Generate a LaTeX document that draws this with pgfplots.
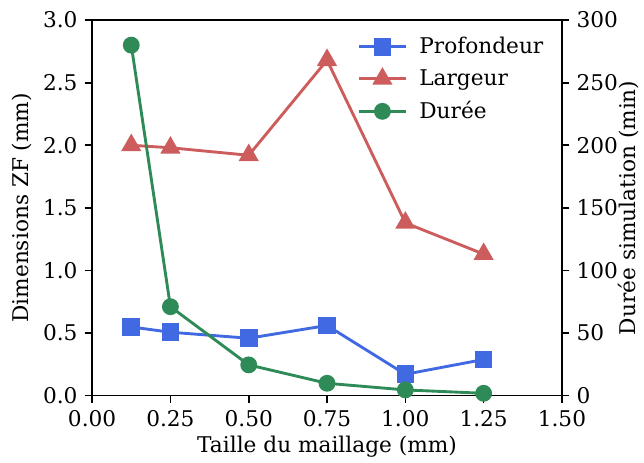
\documentclass[border=0pt]{standalone}
\usepackage{pgfplots}
\pgfplotsset{compat=1.18}
\usetikzlibrary{calc}
\usepackage{fontspec}
\setmainfont{DejaVu Serif}
\definecolor{cblue}{HTML}{4169E1}
\definecolor{cred}{HTML}{CD5C5C}
\definecolor{cgreen}{HTML}{2E8B57}
\begin{document}
\begin{tikzpicture}
\pgfplotsset{
  every axis/.append style={
    scale only axis, width=229bp, height=183bp,
    /pgf/number format/assume math mode=true,
    tick align=outside, major tick length=3.6bp,
    tick style={black, line width=0.8bp},
    axis line style={line width=0.9bp},
    xmin=0, xmax=1.5,
    font=\fontsize{10.6}{12.7}\selectfont,
    legend image code/.code={\draw[mark repeat=2,mark phase=2] plot coordinates {(0bp,0bp)(11.3bp,0bp)(22.6bp,0bp)};},
  }
}
\begin{axis}[
  name=ax,
  ymin=0, ymax=3,
  xtick={0,0.25,...,1.5},
  ytick={0,0.5,...,3},
  xtick pos=bottom, ytick pos=left,
  xticklabel style={/pgf/number format/.cd, fixed, fixed zerofill, precision=2},
  yticklabel style={/pgf/number format/.cd, fixed, fixed zerofill, precision=1},
  xlabel={Taille du maillage (mm)},
  ylabel={Dimensions ZF (mm)},
  xlabel style={at={(axis description cs:0.5,-0.152)}, anchor=base},
  ylabel style={at={(axis description cs:-0.149,0.5)}, anchor=center},
]
\addplot[cblue, line width=1.4bp, mark=square*, mark size=3.6bp] coordinates {
(0.125,0.548) (0.25,0.506) (0.5,0.458) (0.75,0.56) (1.0,0.17) (1.25,0.288)};
\addplot[cred, line width=1.4bp, mark=triangle*, mark size=4.3bp] coordinates {
(0.125,2.0) (0.25,1.98) (0.5,1.92) (0.75,2.68) (1.0,1.38) (1.25,1.13)};
\end{axis}
\begin{axis}[
  ymin=0, ymax=300,
  axis x line=none, axis y line*=right,
  ytick={0,50,...,300},
  ylabel={Durée simulation (min)},
  ylabel style={at={(axis description cs:1.141,0.5)}, anchor=center},
  legend style={draw=none, fill=none, at={(0.983,0.978)}, anchor=north east, row sep=2.3bp, font=\fontsize{10.6}{12.7}\selectfont,
    /tikz/every odd column/.append style={column sep=4bp}},
  legend cell align=left,
]
\addlegendimage{cblue, line width=1.4bp, mark=square*, mark size=3.6bp}
\addlegendentry{Profondeur}
\addlegendimage{cred, line width=1.4bp, mark=triangle*, mark size=4.3bp}
\addlegendentry{Largeur}
\addplot[cgreen, line width=1.4bp, mark=*, mark size=3.4bp] coordinates {
(0.125,280) (0.25,71) (0.5,24.5) (0.75,9.8) (1.0,4.5) (1.25,1.8)};
\addlegendentry{Durée}
\end{axis}
\pgfresetboundingbox
\path[use as bounding box] ($(ax.south west)+(-44.9bp,-32.7bp)$) rectangle ($(ax.north east)+(40bp,9.8bp)$);
\end{tikzpicture}
\end{document}
